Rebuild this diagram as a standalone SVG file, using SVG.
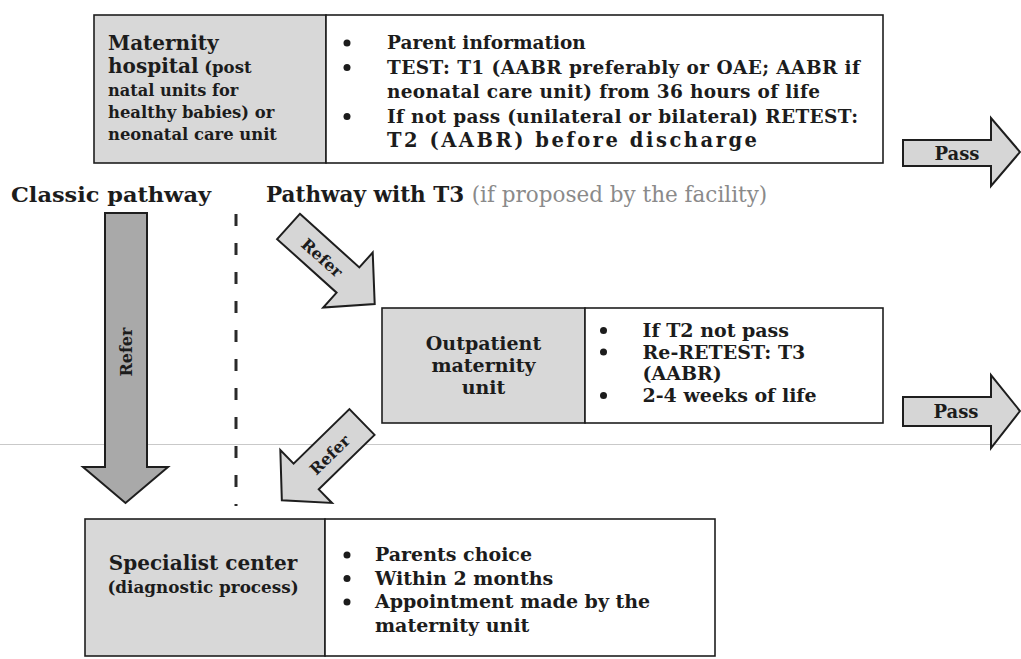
<svg xmlns="http://www.w3.org/2000/svg" width="1021" height="659" viewBox="0 0 1021 659">
<style>
text { font-family: "DejaVu Serif", "Liberation Serif", serif; font-weight: bold; fill: #1c1c1c; }
.gray { fill: #d8d8d8; stroke: #1e1e1e; stroke-width: 1.6; }
.white { fill: #ffffff; stroke: #1e1e1e; stroke-width: 1.6; }
.arrow { fill: #d6d6d6; stroke: #1e1e1e; stroke-width: 2; stroke-linejoin: miter; }
.arrow-dark { fill: #a9a9a9; stroke: #1e1e1e; stroke-width: 2; }
.bullet { fill: #1c1c1c; }
.lbl { font-size: 16px; }
.pass { font-size: 18px; }
.rt { font-size: 18.5px; }
.mt { font-size: 19px; }
.bt { font-size: 19px; }
</style>

<rect width="1021" height="659" fill="#ffffff"/>
<line x1="0" y1="444.5" x2="1021" y2="444.5" stroke="#c9c9c9" stroke-width="1"/>

<g id="maternity-hospital">
  <rect class="gray" x="94" y="15" width="232" height="148"/>
  <rect class="white" x="326" y="15" width="557" height="148"/>
  <text x="108" y="50" font-size="20">Maternity</text>
  <text x="108" y="73"><tspan font-size="20">hospital</tspan><tspan font-size="16.5"> (post</tspan></text>
  <text x="108" y="96" font-size="16.2">natal units for</text>
  <text x="108" y="118" font-size="16.4">healthy babies) or</text>
  <text x="108" y="140" font-size="16.4">neonatal care unit</text>
  <circle class="bullet" cx="347" cy="43" r="3.5"/>
  <circle class="bullet" cx="347" cy="67.5" r="3.5"/>
  <circle class="bullet" cx="347" cy="116.5" r="3.5"/>
  <text class="rt" x="387" y="49">Parent information</text>
  <text class="rt" x="387" y="73.5" textLength="473" lengthAdjust="spacing">TEST: T1 (AABR preferably or OAE; AABR if</text>
  <text class="rt" x="387" y="98" textLength="433" lengthAdjust="spacing">neonatal care unit) from 36 hours of life</text>
  <text class="rt" x="387" y="122.5" textLength="471" lengthAdjust="spacing">If not pass (unilateral or bilateral) RETEST:</text>
  <text x="387" y="147" font-size="19.5" textLength="370" lengthAdjust="spacing">T2 (AABR) before discharge</text>
</g>

<g id="classic-pathway-label">
  <text x="11" y="202" font-size="20.5" textLength="200" lengthAdjust="spacingAndGlyphs">Classic pathway</text>
</g>
<g id="pathway-t3-label">
  <text x="266" y="202" font-size="21.5">Pathway with T3 <tspan font-weight="normal" fill="#8a8a8a">(if proposed by the facility)</tspan></text>
</g>

<g id="divider">
  <line x1="236" y1="214" x2="236" y2="506" stroke="#2a2a2a" stroke-width="3" stroke-dasharray="12 17"/>
</g>

<g id="outpatient-unit">
  <rect class="gray" x="382" y="308" width="203" height="115"/>
  <rect class="white" x="585" y="308" width="298" height="115"/>
  <text x="483.5" y="350" font-size="19" text-anchor="middle" fill="#3a3a3a">Outpatient</text>
  <text x="483.5" y="372" font-size="19" text-anchor="middle" fill="#3a3a3a">maternity</text>
  <text x="483.5" y="394" font-size="19" text-anchor="middle" fill="#3a3a3a">unit</text>
  <circle class="bullet" cx="603.5" cy="330.5" r="3.5"/>
  <circle class="bullet" cx="603.5" cy="352" r="3.5"/>
  <circle class="bullet" cx="603.5" cy="395.5" r="3.5"/>
  <text class="mt" x="642.5" y="337">If T2 not pass</text>
  <text class="mt" x="642.5" y="358.5">Re-RETEST: T3</text>
  <text class="mt" x="642.5" y="380">(AABR)</text>
  <text class="mt" x="642.5" y="401.5">2-4 weeks of life</text>
</g>

<g id="specialist-center">
  <rect class="gray" x="85" y="519" width="240" height="137"/>
  <rect class="white" x="325" y="519" width="390" height="137"/>
  <text x="203" y="570" font-size="20" text-anchor="middle">Specialist center</text>
  <text x="203" y="593" font-size="16.8" text-anchor="middle" fill="#2e2e2e">(diagnostic process)</text>
  <circle class="bullet" cx="347" cy="555" r="3.5"/>
  <circle class="bullet" cx="347" cy="578.5" r="3.5"/>
  <circle class="bullet" cx="347" cy="602" r="3.5"/>
  <text class="bt" x="375" y="561">Parents choice</text>
  <text class="bt" x="375" y="584.5">Within 2 months</text>
  <text class="bt" x="375" y="608">Appointment made by the</text>
  <text class="bt" x="375" y="631.5">maternity unit</text>
</g>

<g id="connectors">
  <g id="refer-classic">
    <path class="arrow-dark" d="M105,213 H147 V467 H168 L125.5,503 L83,467 H105 Z"/>
    <text class="lbl" transform="translate(126,352) rotate(-90)" text-anchor="middle" y="5.5">Refer</text>
  </g>
  <g id="refer-to-outpatient">
    <path class="arrow" transform="translate(288.5,226.5) rotate(42)" d="M0,-17 L80,-17 L80,-37 L116,0 L80,37 L80,17 L0,17 Z"/>
    <text class="lbl" transform="translate(322,258) rotate(42)" text-anchor="middle" y="5.5">Refer</text>
  </g>
  <g id="refer-to-specialist">
    <path class="arrow" transform="translate(362,422) rotate(135.7)" d="M0,-18 L78,-18 L78,-37 L112,0 L78,37 L78,18 L0,18 Z"/>
    <text class="lbl" transform="translate(330,455) rotate(-44.3)" text-anchor="middle" y="5.5">Refer</text>
  </g>
  <g id="pass-1">
    <path class="arrow" d="M903,140 H991 V118 L1020,152 L991,186 V166 H903 Z"/>
    <text class="pass" x="957" y="160" text-anchor="middle">Pass</text>
  </g>
  <g id="pass-2">
    <path class="arrow" d="M903,397 H991 V375 L1020,411 L991,448 V426 H903 Z"/>
    <text class="pass" x="956" y="418" text-anchor="middle">Pass</text>
  </g>
</g>
</svg>
